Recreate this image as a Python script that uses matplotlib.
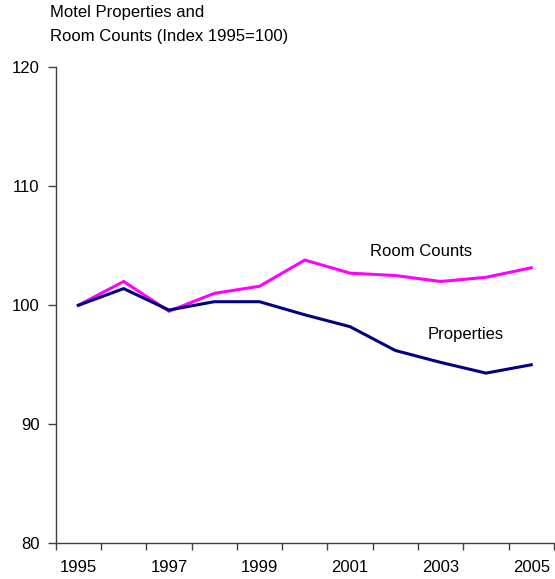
import matplotlib
matplotlib.use("Agg")
import matplotlib.pyplot as plt

plt.rcParams["font.family"] = ["Liberation Sans", "DejaVu Sans"]

# data
roky = [1995, 1996, 1997, 1998, 1999, 2000, 2001, 2002, 2003, 2004, 2005]
properties = [100.0, 101.4, 99.6, 100.3, 100.3, 99.2, 98.2, 96.2, 95.2, 94.3, 95.0]
room_counts = [100.0, 102.0, 99.5, 101.0, 101.6, 103.8, 102.7, 102.5, 102.0, 102.35, 103.15]
y_ticks = [80, 90, 100, 110, 120]

fig = plt.figure(figsize=(5.55, 5.79), dpi=100)
ax = fig.add_axes([0.1004, 0.0617, 0.8976, 0.8221])

x = list(range(len(roky)))
ax.plot(x, room_counts, color="#FF00FF", lw=2.2, solid_joinstyle="miter")
ax.plot(x, properties, color="#000080", lw=2.2, solid_joinstyle="miter")

ax.set_xlim(-0.5, len(roky) - 0.5)
ax.set_ylim(80, 120)
ax.set_yticks(y_ticks)
ax.set_yticklabels([str(v) for v in y_ticks], fontsize=12)

# category axis: tick marks between categories, labels every 2 years
ax.set_xticks([i - 0.5 for i in range(len(roky) + 1)])
ax.set_xticklabels([])
ax.set_xticks(x[::2], minor=True)
ax.set_xticklabels([str(r) for r in roky[::2]], minor=True, fontsize=12)
ax.tick_params(axis="x", which="major", length=5, width=1, color="#404040", direction="out")
ax.tick_params(axis="x", which="minor", length=0, pad=12)
ax.tick_params(axis="y", length=5.5, width=1, color="#404040", pad=6)

for s in ["top", "right"]:
    ax.spines[s].set_visible(False)
for s in ["left", "bottom"]:
    ax.spines[s].set_color("#404040")
    ax.spines[s].set_linewidth(1)

ax.text(7.57, 104.5, "Room Counts", fontsize=12, ha="center", va="center")
ax.text(8.56, 97.56, "Properties", fontsize=12, ha="center", va="center")

fig.text(50 / 555, 1 - 13 / 579, "Motel Properties and", fontsize=12, ha="left", va="center")
fig.text(50 / 555, 1 - 37 / 579, "Room Counts (Index 1995=100)", fontsize=12, ha="left", va="center")

fig.savefig("out.png", dpi=100)
